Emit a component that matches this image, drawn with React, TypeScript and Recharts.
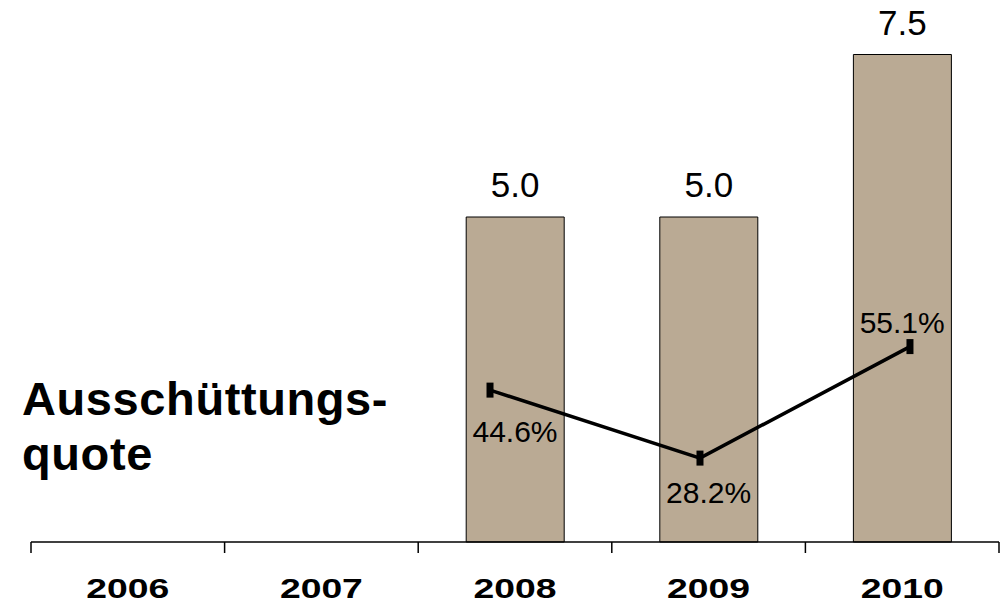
import React from 'react'
import { ComposedChart, Bar, Line, XAxis, YAxis, LabelList } from 'recharts'

const YEARS = ['2006', '2007', '2008', '2009', '2010']
const DIVIDEND: (number | null)[] = [null, null, 5.0, 5.0, 7.5]
const PAYOUT: (number | null)[] = [null, null, 44.6, 28.2, 55.1]
// baseline shift of each payout label relative to its point (px)
const PAYOUT_LABEL_DY = [0, 0, 52, 45, -14]

const FONT = '"Liberation Sans", Arial, sans-serif'
const BAR_FILL = '#baaa94'

const data = YEARS.map((year, i) => ({
  year,
  yearNum: Number(year),
  dividend: DIVIDEND[i],
  payout: PAYOUT[i],
}))

function YearTick(props: any) {
  const { x, y, payload, index, visibleTicksCount, width } = props
  const band = width && visibleTicksCount ? width / visibleTicksCount : (payload?.offset ?? 0) * 2
  const last = index === visibleTicksCount - 1
  return (
    <g>
      <line x1={x - band / 2} x2={x - band / 2} y1={y} y2={y + 11} stroke="#000" strokeWidth={1.5} />
      {last && <line x1={x + band / 2} x2={x + band / 2} y1={y} y2={y + 11} stroke="#000" strokeWidth={1.5} />}
      <text
        x={x}
        y={y + 56}
        textAnchor="middle"
        fontFamily={FONT}
        fontWeight="bold"
        fontSize={27}
        textLength={83}
        lengthAdjust="spacingAndGlyphs"
        fill="#000"
      >
        {payload.value}
      </text>
    </g>
  )
}

function PayoutDot(props: any) {
  const { cx, cy, value, index } = props
  if (cx == null || cy == null || value == null) return <g key={`d${index}`} />
  return <rect key={`d${index}`} x={cx - 3.5} y={cy - 7.5} width={7} height={15} fill="#000" />
}

function PayoutLabel(props: any) {
  const { x, y, value, index } = props
  if (value == null || x == null || y == null) return null
  return (
    <text x={x} y={y + (PAYOUT_LABEL_DY[index] ?? 0)} textAnchor="middle" fontFamily={FONT} fontSize={30} fill="#000">
      {Number(value).toFixed(1)}%
    </text>
  )
}

export default function App() {
  return (
    <div style={{ position: 'absolute', left: 0, top: 0, width: 1001, height: 604, background: '#fff' }}>
      <ComposedChart width={1001} height={604} data={data} margin={{ top: 22, right: 2, left: 31, bottom: 0 }}>
        <XAxis
          xAxisId="cat"
          dataKey="year"
          height={62}
          axisLine={{ stroke: '#000', strokeWidth: 1.5 }}
          tickLine={false}
          tickSize={0}
          tickMargin={0}
          interval={0}
          tick={<YearTick />}
        />
        <XAxis
          xAxisId="line"
          dataKey="yearNum"
          type="number"
          domain={[2005.814, 2010.424]}
          allowDataOverflow
          hide
        />
        <YAxis yAxisId="bar" domain={[0, 8]} hide />
        <YAxis yAxisId="pct" domain={[7.96, 133.4]} allowDataOverflow hide />
        <Bar
          xAxisId="cat"
          yAxisId="bar"
          dataKey="dividend"
          fill={BAR_FILL}
          stroke="#000"
          strokeWidth={1}
          barSize={98}
          isAnimationActive={false}
        >
          <LabelList
            dataKey="dividend"
            position="top"
            offset={20}
            fontFamily={FONT}
            fontSize={35}
            fill="#000"
            formatter={(v: any) => (v == null ? '' : Number(v).toFixed(1))}
          />
        </Bar>
        <Line
          xAxisId="line"
          yAxisId="pct"
          dataKey="payout"
          stroke="#000"
          strokeWidth={3.5}
          dot={<PayoutDot />}
          activeDot={false}
          isAnimationActive={false}
        />
        <Line
          xAxisId="cat"
          yAxisId="pct"
          dataKey="payout"
          stroke="none"
          dot={false}
          activeDot={false}
          isAnimationActive={false}
        >
          <LabelList dataKey="payout" content={<PayoutLabel />} />
        </Line>
      </ComposedChart>
      <div
        style={{
          position: 'absolute',
          left: 22,
          top: 371,
          fontFamily: FONT,
          fontWeight: 'bold',
          fontSize: 47,
          letterSpacing: 0.6,
          lineHeight: '55px',
          color: '#000',
        }}
      >
        Ausschüttungs-
        <br />
        quote
      </div>
    </div>
  )
}
